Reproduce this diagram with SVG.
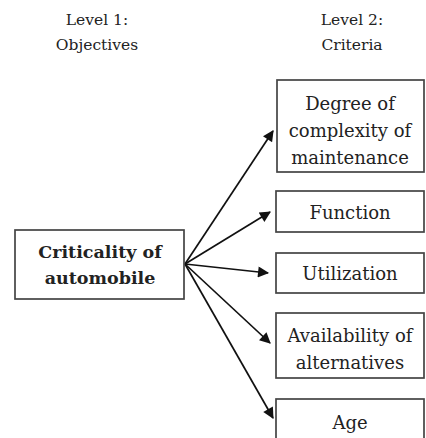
<svg xmlns="http://www.w3.org/2000/svg" width="426" height="438" viewBox="0 0 426 438">
  <style>
    .box { fill: #fff; stroke: #444; stroke-width: 1.7; }
    .t { font-family: "DejaVu Serif", "Liberation Serif", serif; fill: #222; text-anchor: middle; dominant-baseline: central; }
    .hdr { font-size: 15.5px; }
    .lbl { font-size: 18px; }
    .root { font-size: 17.5px; font-weight: bold; }
    .edge { stroke: #111; stroke-width: 1.7; fill: none; marker-end: url(#ah); }
  </style>
  <defs>
    <marker id="ah" viewBox="0 0 10 10" refX="9" refY="5" markerWidth="7.5" markerHeight="6.5" markerUnits="strokeWidth" orient="auto">
      <path d="M0,0 L10,5 L0,10 z" fill="#111"/>
    </marker>
  </defs>
  <rect width="426" height="438" fill="#fff"/>

  <g id="headers">
    <text class="t hdr" x="97" y="20">Level 1:</text>
    <text class="t hdr" x="97" y="45">Objectives</text>
    <text class="t hdr" x="352" y="20">Level 2:</text>
    <text class="t hdr" x="352" y="45">Criteria</text>
  </g>

  <g id="connectors">
    <line class="edge" x1="185" y1="264" x2="273" y2="131"/>
    <line class="edge" x1="185" y1="264" x2="270" y2="212"/>
    <line class="edge" x1="185" y1="264" x2="268" y2="273"/>
    <line class="edge" x1="185" y1="264" x2="270" y2="343"/>
    <line class="edge" x1="185" y1="264" x2="273" y2="418"/>
  </g>

  <g id="criticality">
    <rect class="box" x="15" y="230" width="169" height="69"/>
    <text class="t root" x="100" y="252">Criticality of</text>
    <text class="t root" x="100" y="278">automobile</text>
  </g>

  <g id="complexity">
    <rect class="box" x="277" y="80" width="147" height="92"/>
    <text class="t lbl" x="350" y="103">Degree of</text>
    <text class="t lbl" x="350" y="130">complexity of</text>
    <text class="t lbl" x="350" y="157">maintenance</text>
  </g>

  <g id="function">
    <rect class="box" x="276" y="191" width="148" height="41"/>
    <text class="t lbl" x="350" y="212">Function</text>
  </g>

  <g id="utilization">
    <rect class="box" x="276" y="253" width="148" height="40"/>
    <text class="t lbl" x="350" y="273">Utilization</text>
  </g>

  <g id="alternatives">
    <rect class="box" x="276" y="313" width="148" height="65"/>
    <text class="t lbl" x="350" y="335">Availability of</text>
    <text class="t lbl" x="350" y="362">alternatives</text>
  </g>

  <g id="age">
    <rect class="box" x="276" y="399" width="148" height="50"/>
    <text class="t lbl" x="350" y="422">Age</text>
  </g>
</svg>
